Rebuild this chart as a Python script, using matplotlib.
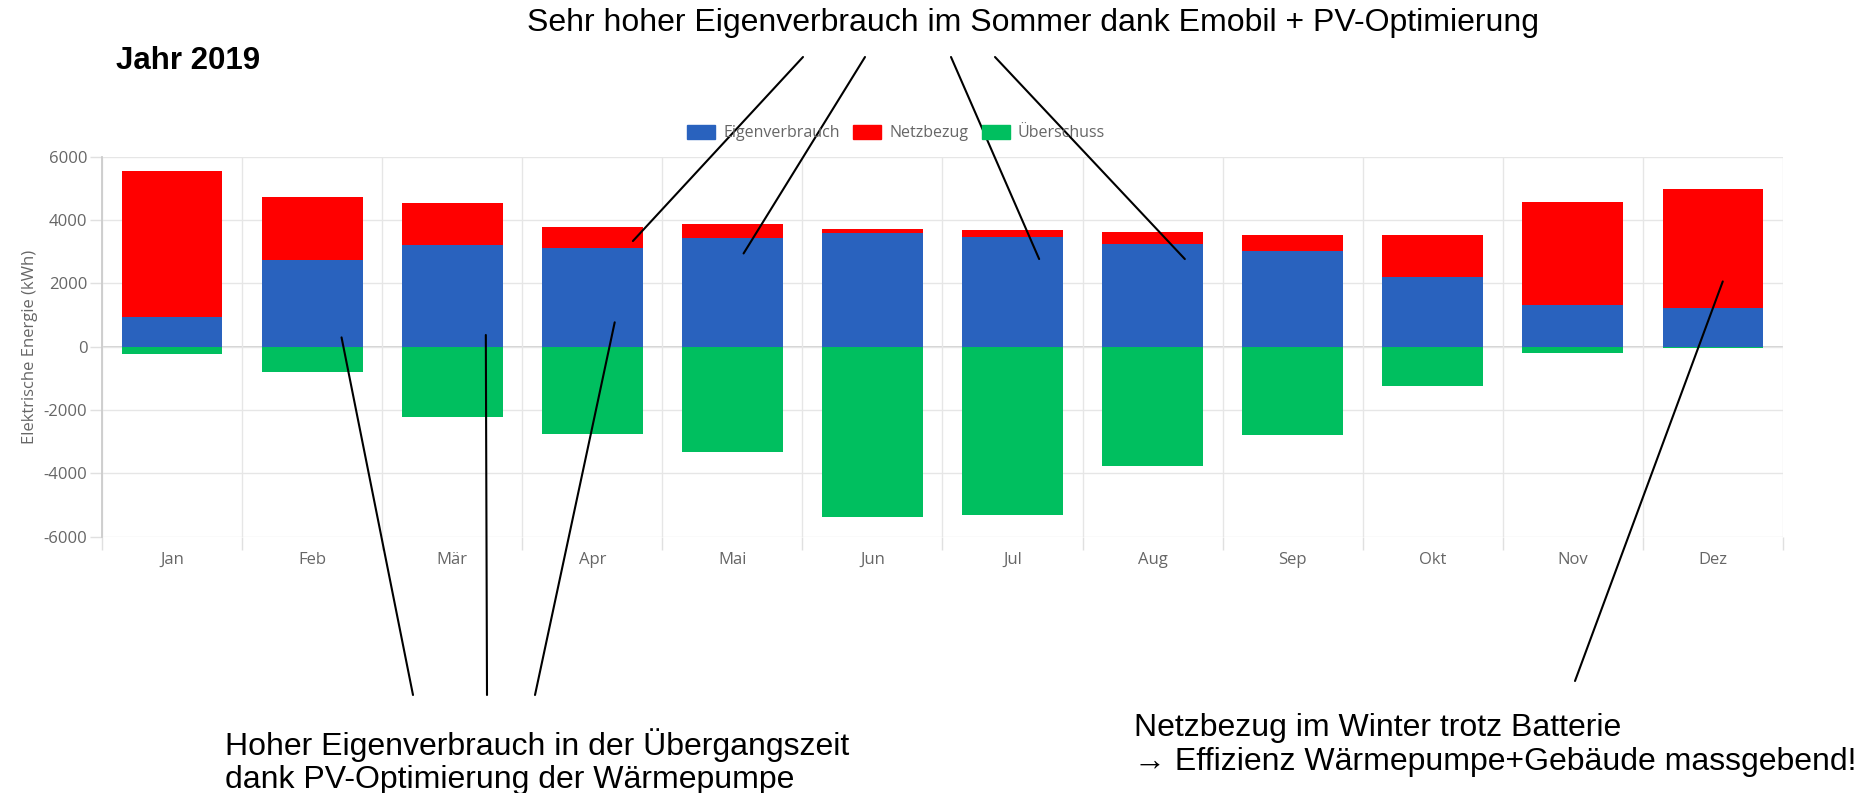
import matplotlib.pyplot as plt
from matplotlib.patches import Patch

plt.rcParams["axes.unicode_minus"] = False

# Monatswerte 2019 in kWh
monate = ["Jan", "Feb", "Mär", "Apr", "Mai", "Jun", "Jul", "Aug", "Sep", "Okt", "Nov", "Dez"]
eigenverbrauch = [925, 2747, 3221, 3104, 3432, 3578, 3473, 3243, 3009, 2188, 1326, 1209]
netzbezug = [4610, 1967, 1304, 685, 442, 126, 212, 366, 527, 1326, 3252, 3771]
ueberschuss = [-230, -789, -2232, -2760, -3336, -5368, -5305, -3757, -2779, -1231, -199, -54]

c_blau = "#2962be"
c_rot = "#ff0000"
c_gruen = "#00bf5f"
grau = "#666666"

W, H = 1857, 793
fig = plt.figure(figsize=(W / 100, H / 100), dpi=100)
ax = fig.add_axes([102 / W, 1 - 536.7 / H, (1783 - 102) / W, (536.7 - 156.7) / H])

x = list(range(len(monate)))
b = 0.72
ax.bar(x, eigenverbrauch, width=b, color=c_blau, zorder=3)
ax.bar(x, netzbezug, width=b, bottom=eigenverbrauch, color=c_rot, zorder=3)
ax.bar(x, ueberschuss, width=b, color=c_gruen, zorder=3)

ax.set_xlim(-0.5, 11.5)
ax.set_ylim(-6000, 6000)
ax.set_yticks(range(-6000, 6001, 2000))
ax.set_xticks(x)
ax.set_xticklabels(monate)
ax.set_xticks([i - 0.5 for i in range(13)], minor=True)

for s in ["top", "right", "bottom"]:
    ax.spines[s].set_visible(False)
ax.spines["left"].set_color("#cccccc")
ax.spines["left"].set_linewidth(1.3)

ax.grid(axis="y", color="#e6e6e6", lw=1, zorder=0)
ax.grid(axis="x", which="minor", color="#e6e6e6", lw=1, zorder=0)
ax.axhline(0, color="#cfcfcf", lw=1.3, zorder=1)

ax.tick_params(axis="x", which="major", length=0, pad=11, labelsize=12, labelcolor=grau)
ax.tick_params(axis="x", which="minor", length=9, width=1, color="#e0e0e0")
ax.tick_params(axis="y", length=8.5, width=1, color="#e0e0e0", pad=2, labelsize=12, labelcolor=grau)
for lab in ax.get_xticklabels() + ax.get_yticklabels():
    lab.set_family("Open Sans")

ax.set_ylabel("Elektrische Energie (kWh)", fontsize=12, color=grau, family="Open Sans", labelpad=4)

handles = [Patch(color=c_blau, label="Eigenverbrauch"),
           Patch(color=c_rot, label="Netzbezug"),
           Patch(color=c_gruen, label="Überschuss")]
leg = fig.legend(handles=handles, loc="center", bbox_to_anchor=(896 / W, 1 - 133 / H), ncol=3,
                 frameon=False, prop={"family": "Open Sans", "size": 11.5},
                 handlelength=1.75, handleheight=1.05, handletextpad=0.5, columnspacing=0.85)
for t in leg.get_texts():
    t.set_color(grau)

# Texte
schrift = ["Liberation Sans", "DejaVu Sans"]
fig.text(116 / W, 1 - 69 / H, "Jahr 2019", fontsize=22.5, fontweight="bold",
         family=schrift, va="baseline")
fig.text(1033 / W, 1 - 31 / H, "Sehr hoher Eigenverbrauch im Sommer dank Emobil + PV-Optimierung",
         fontsize=23, family=schrift, ha="center", va="baseline")

fig.text(225 / W, 1 - 755 / H, "Hoher Eigenverbrauch in der Übergangszeit",
         fontsize=23, family=schrift, va="baseline")
fig.text(225 / W, 1 - 788 / H, "dank PV-Optimierung der Wärmepumpe",
         fontsize=23, family=schrift, va="baseline")
fig.text(1134 / W, 1 - 736 / H, "Netzbezug im Winter trotz Batterie",
         fontsize=23, family=schrift, va="baseline")
fig.text(1134 / W, 1 - 770 / H, "\u2192 Effizienz Wärmepumpe+Gebäude massgebend!",
         fontsize=23, family=schrift, va="baseline")

# Hinweislinien: Zielpunkt im Balken (Daten) und Startpunkt beim Text (Pixel von oben)
ziele_oben = [(3.29, 3337), (4.08, 2945), (6.19, 2768), (7.23, 2768)]
start_oben = [(803, 57), (865, 57), (951, 57), (995, 57)]
ziele_unten = [(1.21, 294), (2.24, 370), (3.16, 770), (11.07, 2061)]
start_unten = [(413, 695), (487, 695), (535, 695), (1575, 681)]

for ziel, start in zip(ziele_oben + ziele_unten, start_oben + start_unten):
    ax.annotate("", xy=ziel, xycoords="data", xytext=(start[0], H - start[1]),
                textcoords="figure pixels", annotation_clip=False,
                arrowprops=dict(arrowstyle="-", color="black", lw=1.5, shrinkA=0, shrinkB=0))

fig.savefig("out.png", dpi=100)
